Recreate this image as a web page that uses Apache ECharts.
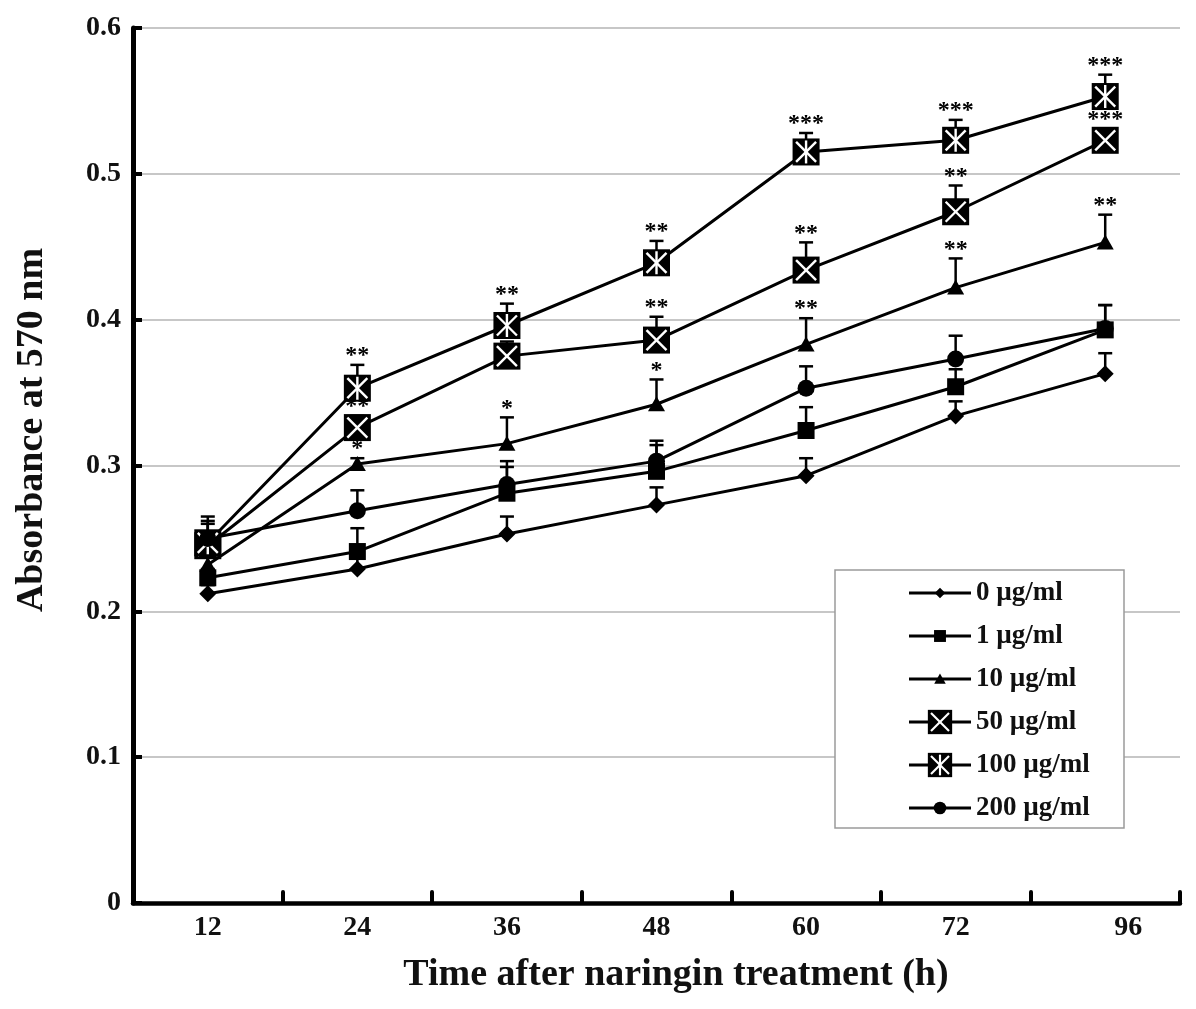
<!DOCTYPE html>
<html>
<head>
<meta charset="utf-8">
<script src="https://cdn.jsdelivr.net/npm/echarts@6/dist/echarts.min.js"></script>
<style>html,body{margin:0;padding:0;background:#fff;}#c{width:1196px;height:1009px;}</style>
</head>
<body>
<div id="c"></div>
<script>
// ---- data ----
const categories = ['12', '24', '36', '48', '60', '72', '96'];
const seriesNames = ['0 µg/ml', '1 µg/ml', '10 µg/ml', '50 µg/ml', '100 µg/ml', '200 µg/ml'];
const yTicks = [0, 0.1, 0.2, 0.3, 0.4, 0.5, 0.6];

const val0   = [0.212, 0.229, 0.253, 0.273, 0.293, 0.334, 0.363];
const err0   = [0.006, 0.008, 0.012, 0.012, 0.012, 0.010, 0.014];
const val1   = [0.223, 0.241, 0.281, 0.296, 0.324, 0.354, 0.393];
const err1   = [0.006, 0.016, 0.018, 0.018, 0.016, 0.012, 0.017];
const val10  = [0.232, 0.301, 0.315, 0.342, 0.383, 0.422, 0.453];
const err10  = [0.006, 0.004, 0.018, 0.017, 0.018, 0.020, 0.019];
const val50  = [0.245, 0.326, 0.375, 0.386, 0.434, 0.474, 0.523];
const err50  = [0.015, 0.008, 0.010, 0.016, 0.019, 0.018, 0.008];
const val100 = [0.247, 0.353, 0.396, 0.439, 0.515, 0.523, 0.553];
const err100 = [0.018, 0.016, 0.015, 0.015, 0.013, 0.014, 0.015];
const val200 = [0.250, 0.269, 0.287, 0.303, 0.353, 0.373, 0.394];
const err200 = [0.012, 0.014, 0.016, 0.014, 0.015, 0.016, 0.016];

const sig0   = ['', '', '', '', '', '', ''];
const sig1   = ['', '', '', '', '', '', ''];
const sig10  = ['', '*', '*', '*', '**', '**', '**'];
const sig50  = ['', '**', '**', '**', '**', '**', '***'];
const sig100 = ['', '**', '**', '**', '***', '***', '***'];
const sig200 = ['', '', '', '', '', '', ''];

const xTitle = 'Time after naringin treatment (h)';
const yTitle = 'Absorbance at 570 nm';

// ---- symbols ----
function svgUri(w, h, body) {
  const s = '<svg xmlns="http://www.w3.org/2000/svg" width="' + w + '" height="' + h + '" viewBox="0 0 ' + w + ' ' + h + '">' + body + '</svg>';
  return 'image://data:image/svg+xml;charset=utf-8,' + encodeURIComponent(s);
}
function markerBody(kind, cx, cy, k) {
  const f = '#000';
  switch (kind) {
    case 'diamond': {
      const r = 8.5 * k;
      return '<polygon fill="' + f + '" points="' + cx + ',' + (cy - r) + ' ' + (cx + r) + ',' + cy + ' ' + cx + ',' + (cy + r) + ' ' + (cx - r) + ',' + cy + '"/>';
    }
    case 'square': {
      const r = 8.5 * k;
      return '<rect fill="' + f + '" x="' + (cx - r) + '" y="' + (cy - r) + '" width="' + (2 * r) + '" height="' + (2 * r) + '"/>';
    }
    case 'triangle': {
      const w = 8.5 * k, t = 8 * k, b = 7 * k;
      return '<polygon fill="' + f + '" points="' + cx + ',' + (cy - t) + ' ' + (cx + w) + ',' + (cy + b) + ' ' + (cx - w) + ',' + (cy + b) + '"/>';
    }
    case 'circle':
      return '<circle fill="' + f + '" cx="' + cx + '" cy="' + cy + '" r="' + (8.5 * k) + '"/>';
    case 'xsq':
    case 'asq': {
      const r = 13.5 * k, a = 10 * k, sw = 2.4 * k;
      let s = '<rect fill="' + f + '" x="' + (cx - r) + '" y="' + (cy - r) + '" width="' + (2 * r) + '" height="' + (2 * r) + '"/>';
      s += '<line stroke="#fff" stroke-width="' + sw + '" x1="' + (cx - a) + '" y1="' + (cy - a) + '" x2="' + (cx + a) + '" y2="' + (cy + a) + '"/>';
      s += '<line stroke="#fff" stroke-width="' + sw + '" x1="' + (cx + a) + '" y1="' + (cy - a) + '" x2="' + (cx - a) + '" y2="' + (cy + a) + '"/>';
      if (kind === 'asq') s += '<line stroke="#fff" stroke-width="' + sw + '" x1="' + cx + '" y1="' + (cy - a - 1.5 * k) + '" x2="' + cx + '" y2="' + (cy + a + 1.5 * k) + '"/>';
      return s;
    }
  }
  return '';
}
const kinds = ['diamond', 'square', 'triangle', 'xsq', 'asq', 'circle'];
const legendScale = [0.62, 0.7, 0.68, 0.9, 0.9, 0.74];
const chartSymbols = kinds.map(k => svgUri(30, 30, markerBody(k, 15, 15, 1)));
const legendIcons = kinds.map((k, i) => svgUri(62, 30,
  '<line stroke="#000" stroke-width="3" x1="0" y1="15" x2="62" y2="15"/>' + markerBody(k, 31, 15, legendScale[i])));

const allVals = [val0, val1, val10, val50, val100, val200];
const allErrs = [err0, err1, err10, err50, err100, err200];
const allSigs = [sig0, sig1, sig10, sig50, sig100, sig200];

const FONT = '"Liberation Serif", "Times New Roman", serif';

function errSeries(k) {
  const vals = allVals[k], errs = allErrs[k], sigs = allSigs[k];
  return {
    type: 'custom', z: 1, silent: true,
    data: vals.map((v, i) => [i, v, errs[i]]),
    renderItem: function (params, api) {
      const i = api.value(0), v = api.value(1), e = api.value(2);
      const p0 = api.coord([i, v]);
      const p1 = api.coord([i, v + e]);
      const ch = [
        { type: 'line', shape: { x1: p0[0], y1: p0[1], x2: p1[0], y2: p1[1] }, style: { stroke: '#000', lineWidth: 2.5 } },
        { type: 'line', shape: { x1: p1[0] - 7, y1: p1[1], x2: p1[0] + 7, y2: p1[1] }, style: { stroke: '#000', lineWidth: 2.5 } }
      ];
      const s = sigs[params.dataIndex];
      if (s) ch.push({ type: 'text', x: p1[0], y: p1[1] + 3, style: { text: s, font: 'bold 24px ' + FONT, fill: '#000', align: 'center', verticalAlign: 'bottom' } });
      return { type: 'group', children: ch };
    }
  };
}

const series = [];
for (let k = 0; k < 6; k++) series.push(errSeries(k));
for (let k = 0; k < 6; k++) {
  series.push({
    name: seriesNames[k], type: 'line', z: 2,
    data: allVals[k],
    symbol: chartSymbols[k], symbolSize: 30,
    lineStyle: { color: '#000', width: 3 },
    itemStyle: { color: '#000' },
    emphasis: { disabled: true },
    animation: false
  });
}

const chart = echarts.init(document.getElementById('c'), null, { renderer: 'canvas' });
chart.setOption({
  animation: false,
  backgroundColor: '#fff',
  grid: { left: 133, right: 16, top: 28, bottom: 106, containLabel: false },
  xAxis: {
    type: 'category', boundaryGap: true,
    data: categories.map((c, i) => i === categories.length - 1 ? { value: c, textStyle: { padding: [0, 0, 0, 46] } } : c),
    axisLine: { lineStyle: { color: '#000', width: 4.5 } },
    axisTick: { show: true, inside: true, length: 11, interval: 0, alignWithLabel: false, lineStyle: { color: '#000', width: 4, cap: 'round' } },
    axisLabel: { margin: 11, fontFamily: FONT, fontWeight: 'bold', fontSize: 28, color: '#111', interval: 0 },
    splitLine: { show: false }
  },
  yAxis: {
    type: 'value', min: yTicks[0], max: yTicks[yTicks.length - 1], interval: 0.1,
    axisLine: { show: true, lineStyle: { color: '#000', width: 5 } },
    axisTick: { show: true, inside: true, length: 9, lineStyle: { color: '#000', width: 4 } },
    axisLabel: { margin: 12, fontFamily: FONT, fontWeight: 'bold', fontSize: 28, color: '#111',
      formatter: v => (v === 0 ? '0' : v.toFixed(1)) },
    splitLine: { show: true, lineStyle: { color: '#b4b4b4', width: 1.5 } }
  },
  legend: {
    orient: 'vertical', left: 904, top: 573, itemWidth: 62, itemHeight: 30, itemGap: 13,
    data: seriesNames.map((n, k) => ({ name: n, icon: legendIcons[k] })),
    textStyle: { fontFamily: FONT, fontWeight: 'bold', fontSize: 27, color: '#111' },
    selectedMode: false, z: 10
  },
  graphic: [
    { type: 'rect', z: 3, shape: { x: 835, y: 570, width: 289, height: 258 }, style: { fill: '#fff', stroke: '#9a9a9a', lineWidth: 1.5 } },
    { type: 'text', z: 5, x: 676, y: 975, style: { text: xTitle, font: 'bold 38px ' + FONT, fill: '#111', align: 'center', verticalAlign: 'middle' } },
    { type: 'text', z: 5, x: 32, y: 430, rotation: Math.PI / 2, style: { text: yTitle, font: 'bold 38px ' + FONT, fill: '#111', align: 'center', verticalAlign: 'middle' } }
  ],
  series: series
});
</script>
</body>
</html>
